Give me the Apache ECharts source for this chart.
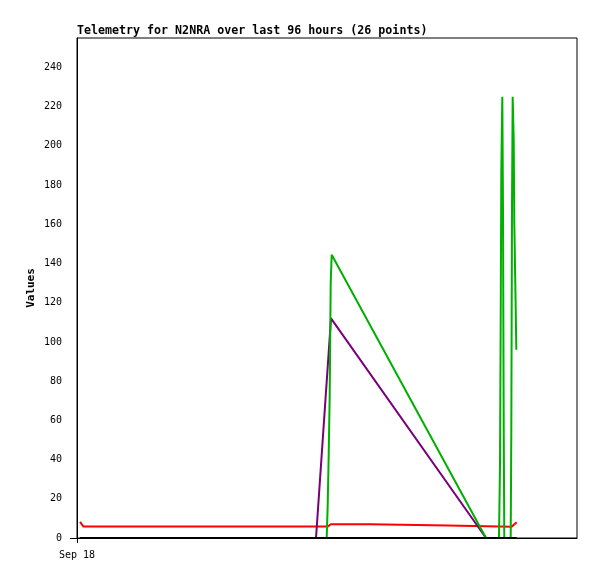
<!DOCTYPE html>
<html>
<head>
<meta charset="utf-8">
<script src="https://cdn.jsdelivr.net/npm/echarts@6/dist/echarts.min.js"></script>
<style>html,body{margin:0;padding:0;background:#fff}#c{width:597px;height:579px}</style>
</head>
<body>
<div id="c"></div>
<script>
// x values are hours since Sep 18 00:00 (96-hour window)
const xTickValues = [0];
const xTickLabels = ['Sep 18'];
const yTicks = [0, 20, 40, 60, 80, 100, 120, 140, 160, 180, 200, 220, 240];
const yTickMarks = [0];

const redX = [0.58, 1.21, 48.19, 48.71, 56.26, 56.45, 71.23, 71.42, 83.46, 84.42];
const redY = [8.2, 5.9, 5.9, 7.0, 7.0, 6.4, 6.4, 5.8, 5.8, 8.0];

const purpleX = [0.58, 45.89, 48.77, 78.53, 84.42];
const purpleY = [0, 0, 112, 0, 0];

const greenX = [0.58, 47.94, 48.13, 48.33, 48.52, 48.71, 48.90, 78.53, 81.02, 81.22, 81.35, 81.47, 81.66, 81.79, 81.93, 82.04, 83.27, 83.39, 83.52, 83.65, 83.85, 83.96, 84.23, 84.35];
const greenY = [0, 0, 16, 43, 73, 130, 144.5, 0, 0, 38, 112, 187, 225, 168, 56, 0, 0, 56, 168, 225, 203, 161, 117, 96];

const blackX = [0.58, 84.42];
const blackY = [0, 0];

function pairs(xs, ys) { return xs.map((x, i) => [x, ys[i]]); }

const mono = 'DejaVu Sans Mono';
const chart = echarts.init(document.getElementById('c'), null, {renderer: 'canvas'});
function line(name, xs, ys, color, z) {
  return {
    name: name, type: 'line', data: pairs(xs, ys), showSymbol: false, symbol: 'none',
    smooth: false, animation: false, z: z,
    lineStyle: {color: color, width: 2}
  };
}
chart.setOption({
  animation: false,
  backgroundColor: '#ffffff',
  title: {
    text: 'Telemetry for N2NRA over last 96 hours (26 points)',
    left: 77, top: 25, padding: 0,
    textStyle: {fontFamily: mono, fontWeight: 'bold', fontSize: 11.65, color: '#000'}
  },
  grid: {left: 77, top: 38, right: 20, bottom: 41, show: true, borderColor: '#000', borderWidth: 1, backgroundColor: 'transparent'},
  xAxis: {
    type: 'value', min: 0, max: 96,
    axisLine: {show: true, onZero: false, lineStyle: {color: '#000', width: 1}},
    axisTick: {show: true, length: 5, inside: false, customValues: xTickValues, lineStyle: {color: '#000'}},
    axisLabel: {show: true, customValues: xTickValues, margin: 12, color: '#000', fontFamily: mono, fontSize: 10,
      formatter: function (v) { const i = xTickValues.indexOf(v); return i >= 0 ? xTickLabels[i] : ''; }},
    splitLine: {show: false}
  },
  yAxis: {
    type: 'value', min: 0, max: 255,
    name: 'Values', nameLocation: 'middle', nameRotate: 90, nameGap: 40, nameMoveOverlap: false,
    nameTextStyle: {fontFamily: mono, fontWeight: 'bold', fontSize: 11, color: '#000'},
    axisLine: {show: true, lineStyle: {color: '#000', width: 1}},
    axisTick: {show: true, length: 7, customValues: yTickMarks, lineStyle: {color: '#000'}},
    axisLabel: {show: true, customValues: yTicks, margin: 15, color: '#000', fontFamily: mono, fontSize: 10},
    splitLine: {show: false}
  },
  series: [
    line('red', redX, redY, '#ff0000', 2),
    line('purple', purpleX, purpleY, '#780078', 3),
    line('green', greenX, greenY, '#00b000', 4),
    line('black', blackX, blackY, '#000000', 5)
  ]
});
</script>
</body>
</html>
